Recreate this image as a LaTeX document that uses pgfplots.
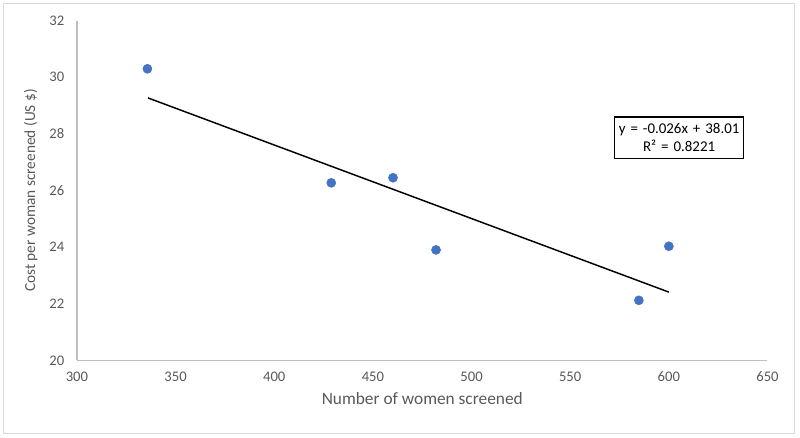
\documentclass[border=0pt]{standalone}
\usepackage{pgfplots}
\pgfplotsset{compat=1.18}
\usepackage{fontspec}
\setmainfont{Carlito}
\definecolor{txt}{HTML}{595959}
\definecolor{axl}{HTML}{BFBFBF}
\definecolor{pt}{HTML}{4472C4}
\begin{document}
\begin{tikzpicture}[x=1pt,y=1pt]
\begin{axis}[
  scale only axis,
  width=518.2pt, height=254.9pt,
  xmin=300, xmax=650, ymin=20, ymax=32,
  xtick={300,350,...,650}, ytick={20,22,...,32},
  axis x line*=bottom, axis y line*=left,
  axis line style={draw=axl, line width=0.9pt},
  x axis line style={-}, y axis line style={-},
  major tick length=0pt,
  tick label style={font=\fontsize{11}{13}\selectfont, text=txt},
  /pgf/number format/assume math mode=true,
  /pgf/number format/1000 sep={},
  xticklabel style={yshift=-5pt},
  yticklabel style={xshift=-6pt},
  xlabel={Number of women screened},
  ylabel={Cost per woman screened (US \$)},
  xlabel style={font=\fontsize{13}{15}\selectfont, text=txt, yshift=-1pt},
  ylabel style={font=\fontsize{11.5}{13}\selectfont, text=txt, yshift=2pt},
  clip=false,
]
\addplot[draw=black, line width=1.1pt] coordinates {(336,29.27) (600,22.41)};
\addplot[only marks, mark=*, mark size=3.4pt, mark options={fill=pt, draw=pt}] coordinates {
(335.7,30.30) (428.9,26.27) (460.2,26.45) (482.0,23.90) (584.8,22.12) (600.0,24.03)};
\node[draw=black, line width=0.9pt, fill=white, align=center, inner xsep=2.5pt, inner ysep=5pt, text width=92pt,
  font=\fontsize{11.2}{13.5}\selectfont] at (axis cs:605.2,27.86)
  {y = -0.026x + 38.01\\R² = 0.8221};
\coordinate (BL) at (rel axis cs:0,0);
\coordinate (TR) at (rel axis cs:1,1);
\end{axis}
\useasboundingbox ([xshift=-57.75pt,yshift=-58.1pt]BL) rectangle ([xshift=24.4pt,yshift=15.5pt]TR);
\draw[draw=gray!30, line width=0.75pt] ([xshift=-54.75pt,yshift=-54.75pt]BL) rectangle ([xshift=19.9pt,yshift=12.5pt]TR);
\end{tikzpicture}
\end{document}
